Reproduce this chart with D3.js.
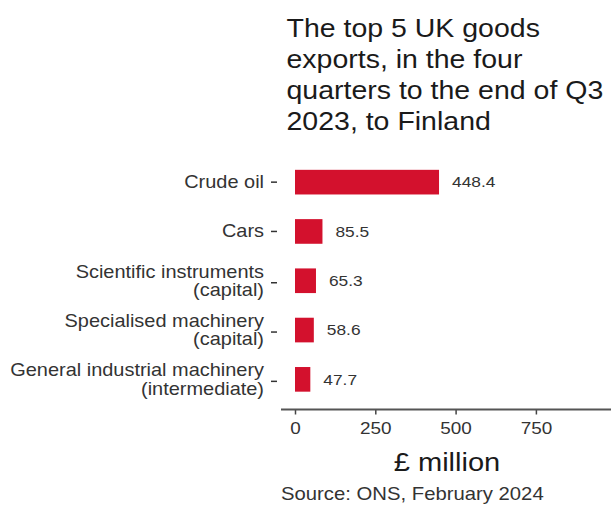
<!DOCTYPE html>
<html><head><meta charset="utf-8">
<script src="https://cdn.jsdelivr.net/npm/d3@7"></script>
<style>body{margin:0;background:#fff}svg{display:block}text{font-family:"Liberation Sans",Arial,sans-serif}</style>
</head><body><svg id="c" width="611" height="507"></svg>
<script>
const categories = [
  ["Crude oil"],
  ["Cars"],
  ["Scientific instruments", "(capital)"],
  ["Specialised machinery", "(capital)"],
  ["General industrial machinery", "(intermediate)"]
];
const values = [448.4, 85.5, 65.3, 58.6, 47.7];
const xTicks = [0, 250, 500, 750];
const titleLines = ["The top 5 UK goods", "exports, in the four", "quarters to the end of Q3", "2023, to Finland"];
const xTitle = "£ million";
const source = "Source: ONS, February 2024";

const SX = 1.14; // horizontal stretch of the reference's type
const tf = (x, y) => `translate(${x},${y}) scale(${SX},1)`;

const svg = d3.select("#c");
const keys = categories.map(c => c.join(" "));
const y = d3.scaleBand().domain(keys).range([157.5, 404]).paddingInner(0.5).paddingOuter(0.25);
const x = d3.scaleLinear().domain([0, 1000]).range([295, 616.2]);
const red = "#d3112d", ink = "#333";

// title
svg.append("g").selectAll("text").data(titleLines).join("text")
  .attr("transform", (d, i) => tf(286.5, 37 + i * 31))
  .attr("font-size", 25).attr("fill", "#1a1a1a").text(d => d);

// bars
svg.append("g").selectAll("rect").data(values).join("rect")
  .attr("x", x(0)).attr("y", (d, i) => y(keys[i]))
  .attr("width", d => x(d) - x(0)).attr("height", y.bandwidth())
  .attr("fill", red);

// value labels
svg.append("g").selectAll("text").data(values).join("text")
  .attr("transform", (d, i) => tf(x(d) + 13, y(keys[i]) + y.bandwidth() / 2))
  .attr("dy", "0.35em").attr("font-size", 15.2).attr("fill", ink)
  .text(d => d3.format(".1f")(d));

// y labels + ticks
const yl = svg.append("g");
categories.forEach((lines, i) => {
  const cy = y(keys[i]) + y.bandwidth() / 2;
  const n = lines.length;
  const t = yl.append("text").attr("text-anchor", "end").attr("font-size", 17.5).attr("fill", ink)
    .attr("transform", tf(264, cy));
  lines.forEach((l, j) => {
    t.append("tspan").attr("x", 0).attr("y", 6 + (j - (n - 1) / 2) * 18.5).text(l);
  });
  const ty = cy + (n > 1 ? 2 : 0);
  yl.append("line").attr("x1", 271).attr("x2", 277).attr("y1", ty).attr("y2", ty)
    .attr("stroke", ink).attr("stroke-width", 1.5);
});

// x axis
const ax = svg.append("g").attr("transform", "translate(0,409.5)")
  .call(d3.axisBottom(x).tickValues(xTicks).tickSize(5).tickPadding(8));
ax.select(".domain").remove();
ax.append("line").attr("x1", 281).attr("x2", 611).attr("stroke", "#555").attr("stroke-width", 2.2);
ax.selectAll(".tick line").attr("stroke", "#444").attr("stroke-width", 1.5);
ax.selectAll(".tick text").attr("font-size", 16.6).attr("fill", ink)
  .attr("transform", `scale(${SX},1)`)
  .attr("font-family", '"Liberation Sans",Arial,sans-serif');

svg.append("text").attr("transform", tf(447, 471)).attr("text-anchor", "middle")
  .attr("font-size", 25.5).attr("fill", "#1a1a1a").text(xTitle);
svg.append("text").attr("transform", tf(281, 500))
  .attr("font-size", 17.8).attr("fill", ink).text(source);
</script></body></html>
